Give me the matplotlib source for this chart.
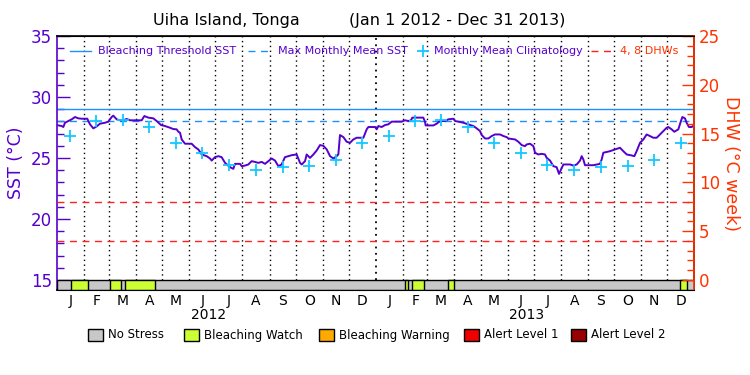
import datetime as dt
import numpy as np
import matplotlib
matplotlib.use('Agg')
import matplotlib.pyplot as plt
from matplotlib.patches import Rectangle
from matplotlib.lines import Line2D

# data (x = days since Jan 1 2012)
sst_day = [0, 5.7, 7.6, 9.5, 13.3, 17.2, 21, 24.8, 28.6, 35.1, 36.3, 38.2, 42, 45.8, 49.6, 55.4,
           59.2, 63, 64.9, 68.8, 72.6, 76.4, 80.2, 84, 89.8, 97.4, 100.5, 105, 110.8, 114.6, 119.6,
           124.2, 129.9, 133.7, 137.5, 139.5, 141.4, 143.3, 147.1, 154.7, 158.6, 162.4, 166.2, 171.9,
           175.8, 177.7, 181.5, 185.3, 189.1, 193, 198.7, 202.5, 204.4, 210.2, 212.1, 215.9, 219.7,
           223.5, 227.3, 231.2, 235, 238.8, 242.6, 246.5, 250.3, 254.1, 257.9, 261.7, 265.6, 269.4,
           275.1, 279, 280.9, 284.7, 286.6, 290.4, 294.3, 298.1, 301.9, 305.7, 309.6, 313.4, 317.2,
           321, 322.9, 324.8, 328.7, 332.5, 336.3, 340.1, 343.9, 351.6, 355.4, 357.3, 365, 366.9,
           368.8, 372.6, 376.4, 380.2, 384.1, 387.9, 395.5, 399.4, 403.2, 406.2, 407.7, 412.7, 420.3,
           422.2, 423, 431.8, 435.6, 439.5, 445.2, 449, 454.8, 456.7, 460.5, 466.2, 471.9, 477.7,
           481.5, 485.3, 487.3, 491.1, 494.9, 498.7, 502.5, 508.3, 512.1, 515.9, 517.8, 525.5, 529.3,
           533.1, 536.9, 538.8, 542.7, 546.5, 548.4, 552.2, 556, 559.8, 561.8, 565.6, 569.4, 573.2,
           575.9, 578.2, 580.9, 588.5, 592.3, 596.2, 600, 601.9, 603.8, 605.7, 615.3, 622.9, 624.8,
           626.7, 634.4, 640.1, 645.8, 649.6, 653.5, 659.2, 662.3, 664.9, 668.8, 672.6, 676.4, 680.2,
           684, 687.9, 691.7, 695.5, 699.3, 701.2, 705, 708.1, 712.7, 715.7, 717.3, 720.3, 722.2,
           724.9, 728, 731]
sst_val = [27.70, 27.62, 27.54, 27.89, 28.03, 28.17, 28.36, 28.25, 28.22, 28.22, 28.03, 27.76, 27.43,
           27.59, 27.81, 27.89, 27.98, 28.36, 28.47, 28.17, 28.09, 28.09, 28.20, 28.09, 28.09, 28.09,
           28.44, 28.31, 28.25, 28.03, 27.70, 27.62, 27.48, 27.37, 27.35, 27.15, 27.07, 26.52, 26.17,
           26.17, 25.89, 25.70, 25.29, 25.15, 24.96, 24.79, 25.07, 25.15, 25.07, 24.60, 24.25, 24.11,
           24.52, 24.52, 24.33, 24.38, 24.47, 24.74, 24.68, 24.60, 24.68, 24.52, 24.74, 24.96, 24.79,
           24.33, 24.47, 25.07, 25.15, 25.23, 25.29, 24.60, 24.47, 24.74, 25.29, 25.01, 25.29, 25.62,
           26.06, 26.00, 25.70, 25.15, 24.96, 25.15, 25.29, 26.88, 26.71, 26.33, 26.25, 26.52, 26.66,
           26.66, 27.35, 27.54, 27.54, 27.35, 27.62, 27.54, 27.70, 27.76, 27.98, 27.98, 27.98, 28.09,
           28.03, 28.09, 28.31, 28.31, 28.31, 27.98, 27.67, 27.67, 27.81, 28.03, 28.03, 28.17, 28.22,
           28.03, 27.98, 27.89, 27.76, 27.62, 27.43, 27.21, 26.88, 26.60, 26.60, 26.80, 26.93, 26.93,
           26.80, 26.71, 26.60, 26.52, 26.33, 26.06, 25.97, 26.11, 26.17, 25.97, 25.43, 25.29, 25.34,
           25.29, 25.01, 24.79, 24.33, 24.25, 23.70, 24.05, 24.47, 24.47, 24.38, 24.47, 24.79, 25.15,
           24.88, 24.41, 24.41, 24.52, 24.88, 25.43, 25.56, 25.70, 25.84, 25.56, 25.29, 25.21, 25.15,
           25.56, 26.25, 26.52, 26.93, 26.80, 26.66, 26.66, 26.93, 27.21, 27.48, 27.54, 27.35, 27.15,
           27.35, 28.03, 28.36, 28.25, 27.89, 27.54, 27.54, 27.70]

clim_sst = [26.8, 28.0, 28.1, 27.5, 26.2, 25.4, 24.4, 24.0, 24.25, 24.35, 24.8, 26.2]
mmm = 28.06
threshold = 29.05
dhw_levels = [4, 8]

# bleaching watch periods in the stress bar
watch_start = [16, 61, 78, 399.6, 407.2, 449, 715]
watch_end = [36.2, 74.1, 113, 402.6, 421.5, 455.5, 723]

month_letters = ['J', 'F', 'M', 'A', 'M', 'J', 'J', 'A', 'S', 'O', 'N', 'D']
years = [2012, 2013]

legend_names = ['No Stress', 'Bleaching Watch', 'Bleaching Warning', 'Alert Level 1', 'Alert Level 2']
legend_cols = ['#c8c8c8', '#ccff33', '#ffaa00', '#ee0000', '#990000']

purple = '#5500cc'
orange = '#ff3300'
blue = '#1e8fff'
cyan = '#12c8ff'

t0 = dt.date(2012, 1, 1)
month_start = []
month_mid = []
for y in years:
    for m in range(1, 13):
        a = (dt.date(y, m, 1) - t0).days
        b = (dt.date(y + (m == 12), m % 12 + 1, 1) - t0).days
        month_start.append(a)
        month_mid.append((a + b) / 2)
x_end = (dt.date(2014, 1, 1) - t0).days

ybot = 14.18
fig = plt.figure(figsize=(7.5, 3.75), dpi=100)
ax = fig.add_axes([56.7 / 750, 1 - 290 / 375, 637.6 / 750, 254 / 375])
ax.set_xlim(0, x_end)
ax.set_ylim(ybot, 35)

# month grid
for d in month_start[1:]:
    ax.plot([d, d], [15, 35], color='black', lw=1.3 if d == 366 else 1.0,
            linestyle=(0, (1, 2.5)), zorder=1)

ax.axhline(threshold, color=blue, lw=1.0, zorder=2)
ax.axhline(mmm, color=blue, lw=1.0, linestyle=(0, (5, 4)), zorder=2)

ax.plot(sst_day, sst_val, color=purple, lw=1.4, zorder=4)
ax.plot(month_mid, clim_sst * 2, linestyle='none', marker='+', color=cyan,
        markersize=8, mew=1.3, zorder=5)

# stress bar
ax.add_patch(Rectangle((0, ybot), x_end, 15 - ybot, facecolor=legend_cols[0],
                       edgecolor='black', lw=1.0, zorder=3))
for s, e in zip(watch_start, watch_end):
    ax.add_patch(Rectangle((s, ybot), e - s, 15 - ybot, facecolor=legend_cols[1],
                           edgecolor='black', lw=1.0, zorder=3))

ax.set_yticks([15, 20, 25, 30, 35])
ax.set_yticks(np.arange(15, 36, 1), minor=True)
ax.tick_params(axis='y', which='both', direction='in', colors=purple, labelsize=12)
ax.tick_params(axis='y', which='major', length=9, width=1)
ax.tick_params(axis='y', which='minor', length=5, width=1)
ax.set_xticks(month_mid)
ax.set_xticklabels(month_letters * 2)
ax.tick_params(axis='x', length=0, pad=3, labelsize=10)
for i, y in enumerate(years):
    ax.text(month_mid[12 * i + 5] + 7, -0.1, str(y), transform=ax.get_xaxis_transform(),
            ha='center', va='center', fontsize=10)
ax.set_ylabel('SST (°C)', color=purple, fontsize=12.5, labelpad=4)
ax.spines['left'].set_color(purple)
for sp in ax.spines.values():
    sp.set_linewidth(1.2)

ax2 = ax.twinx()
ax2.set_ylim(1.25 * (ybot - 15), 25)
for lv in dhw_levels:
    ax2.axhline(lv, color='#ff2020', lw=1.0, linestyle=(0, (5, 4)))
ax2.set_yticks([0, 5, 10, 15, 20, 25])
ax2.set_yticks(np.arange(0, 26, 1), minor=True)
ax2.tick_params(axis='y', which='both', direction='in', colors=orange, labelsize=12)
ax2.tick_params(axis='y', which='major', length=9, width=1)
ax2.tick_params(axis='y', which='minor', length=5, width=1)
ax2.set_ylabel('DHW (°C week)', color=orange, fontsize=12.5, rotation=270, labelpad=14)
ax2.spines['right'].set_color(orange)
ax2.spines['left'].set_visible(False)
ax2.spines['right'].set_linewidth(1.2)

# title
fig.text(153 / 750, 1 - 20 / 375, 'Uiha Island, Tonga', fontsize=11.5, ha='left', va='center')
fig.text(349 / 750, 1 - 20 / 375, '(Jan 1 2012 - Dec 31 2013)', fontsize=11.5, ha='left', va='center')

# top legend
ly = 1 - 51 / 375
lfs = 8
def fig_line(x0, x1, **kw):
    fig.add_artist(Line2D([x0 / 750, x1 / 750], [ly, ly], **kw))
fig_line(70, 91, color=blue, lw=1.0)
fig.text(98 / 750, ly, 'Bleaching Threshold SST', color=purple, fontsize=lfs, va='center')
fig_line(248, 272, color=blue, lw=1.0, linestyle=(0, (5, 4)))
fig.text(278 / 750, ly, 'Max Monthly Mean SST', color=purple, fontsize=lfs, va='center')
fig.add_artist(Line2D([423 / 750], [ly], marker='+', color=cyan, markersize=8, mew=1.3))
fig.text(434 / 750, ly, 'Monthly Mean Climatology', color=purple, fontsize=lfs, va='center')
fig_line(591, 613, color='#ff2020', lw=1.0, linestyle=(0, (5, 4)))
fig.text(620 / 750, ly, '4, 8 DHWs', color=orange, fontsize=lfs, va='center')

# bottom legend
box_x = [88, 184, 319, 464, 571]
by = 1 - 341 / 375
for bx, name, col in zip(box_x, legend_names, legend_cols):
    fig.add_artist(Rectangle((bx / 750, by), 15 / 750, 12 / 375, facecolor=col,
                             edgecolor='black', lw=1.0, transform=fig.transFigure))
    fig.text((bx + 20) / 750, by + 6 / 375, name, fontsize=8.5, va='center')

fig.savefig('out.png', dpi=100)
